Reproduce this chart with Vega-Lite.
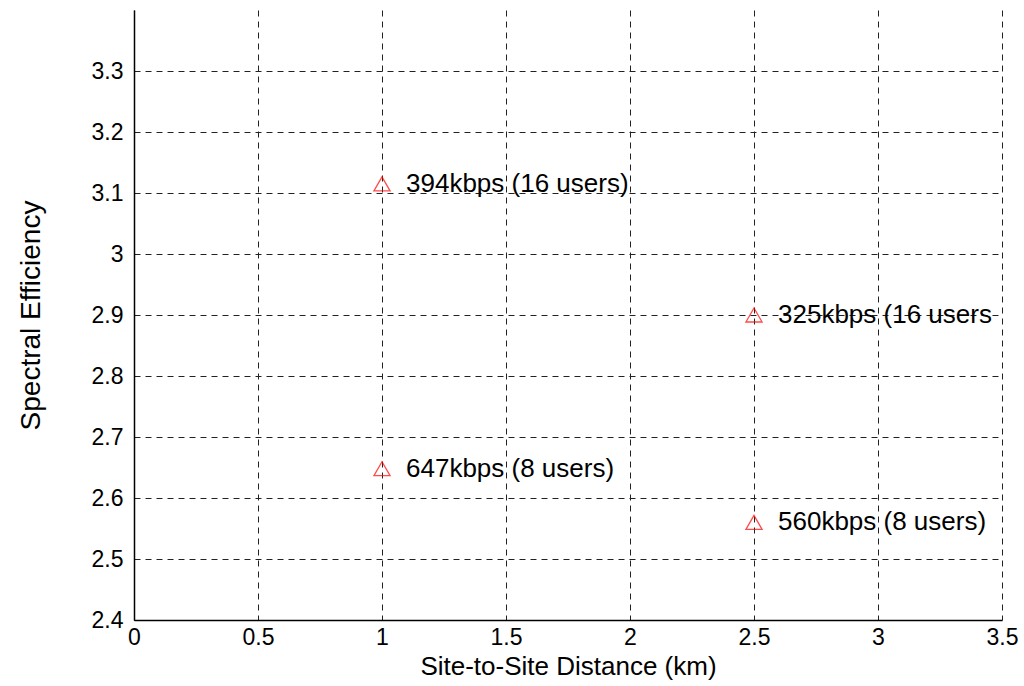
{
  "$schema": "https://vega.github.io/schema/vega-lite/v6.json",
  "width": 868,
  "height": 610,
  "autosize": {"type": "none"},
  "padding": {"left": 134, "top": 10, "right": 22, "bottom": 66},
  "background": "white",
  "config": {
    "view": {"stroke": null},
    "font": "Liberation Sans",
    "axis": {
      "labelFont": "Liberation Sans",
      "titleFont": "Liberation Sans",
      "labelFontSize": 23,
      "titleFontSize": 26,
      "titleFontWeight": "normal",
      "labelColor": "#000",
      "titleColor": "#000",
      "domainColor": "#000",
      "domainWidth": 1.5,
      "gridColor": "#222",
      "gridDash": [6, 5],
      "gridWidth": 1,
      "gridOpacity": 1,
      "ticks": false
    }
  },
  "data": {
    "values": [
      {"distance": 1, "se": 3.115, "label": "394kbps (16 users)"},
      {"distance": 2.5, "se": 2.9, "label": "325kbps (16 users"},
      {"distance": 1, "se": 2.648, "label": "647kbps (8 users)"},
      {"distance": 2.5, "se": 2.56, "label": "560kbps (8 users)"}
    ]
  },
  "encoding": {
    "x": {
      "field": "distance",
      "type": "quantitative",
      "scale": {"domain": [0, 3.5], "nice": false, "zero": false},
      "axis": {"values": [0, 0.5, 1, 1.5, 2, 2.5, 3, 3.5], "format": "~g", "title": "Site-to-Site Distance (km)", "labelPadding": 6, "titlePadding": 4, "labelFlush": false}
    },
    "y": {
      "field": "se",
      "type": "quantitative",
      "scale": {"domain": [2.4, 3.4], "nice": false, "zero": false},
      "axis": {"values": [2.4, 2.5, 2.6, 2.7, 2.8, 2.9, 3.0, 3.1, 3.2, 3.3], "format": "~g", "title": "Spectral Efficiency", "titleFontSize": 28, "labelPadding": 11, "titlePadding": 46, "labelFlush": false}
    }
  },
  "layer": [
    {
      "mark": {"type": "point", "shape": "triangle-up", "filled": false, "color": "#ff0000", "size": 260, "strokeWidth": 1.3}
    },
    {
      "mark": {"type": "text", "align": "left", "baseline": "middle", "dx": 24, "fontSize": 26, "font": "Liberation Sans", "color": "#000"},
      "encoding": {"text": {"field": "label"}}
    }
  ]
}
